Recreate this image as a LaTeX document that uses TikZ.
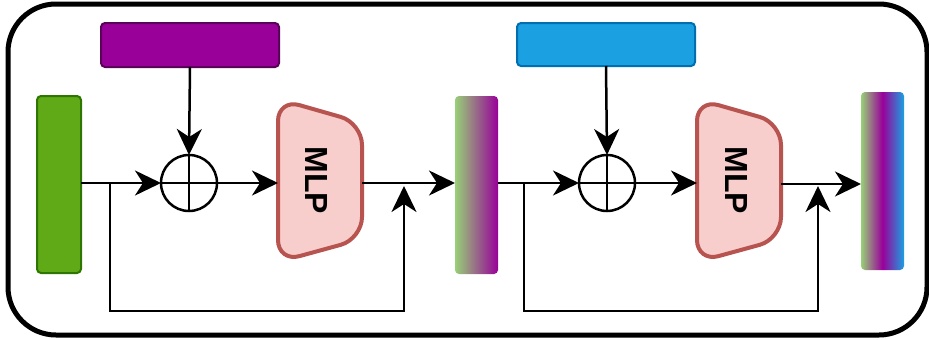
\documentclass[tikz,border=0pt]{standalone}
\usepackage{fontspec}
\setmainfont{Liberation Sans}
\usetikzlibrary{arrows.meta}
\definecolor{greenfill}{HTML}{60A917}
\definecolor{greenline}{HTML}{2D7600}
\definecolor{purplefill}{HTML}{990099}
\definecolor{purpleline}{HTML}{5A005A}
\definecolor{bluefill}{HTML}{1BA1E2}
\definecolor{blueline}{HTML}{006EAF}
\definecolor{lightgreen}{HTML}{97D077}
\definecolor{mlpfill}{HTML}{F8CECC}
\definecolor{mlpline}{HTML}{B85450}
\pgfdeclarehorizontalshading{trishade}{100bp}{color(0bp)=(lightgreen); color(25bp)=(lightgreen); color(50bp)=(purplefill); color(75bp)=(bluefill); color(100bp)=(bluefill)}
\tikzset{
  box/.style={rectangle, rounded corners=4pt, inner sep=0pt, outer sep=0pt, anchor=north west},
  sumnode/.style={circle, draw=black, line width=2.5pt, minimum size=56pt, inner sep=0pt, outer sep=0pt},
  mlparea/.style={rectangle, inner sep=0pt, outer sep=0pt, minimum width=84pt, minimum height=163pt, anchor=north west},
  mlpshape/.style={draw=mlpline, fill=mlpfill, line width=4pt, rounded corners=22pt},
  mlptext/.style={rotate=-90, font=\bfseries\fontsize{32}{32}\selectfont, inner sep=0pt},
  arr/.style={-{Stealth[length=26pt,width=25pt,inset=8pt]}, line width=2.5pt},
  plain/.style={line width=2.5pt},
}
\begin{document}
\begin{tikzpicture}[x=1pt,y=-1pt]
\useasboundingbox (0,0) rectangle (929,340);
% frame
\draw[line width=5pt, rounded corners=48pt] (8,4) rectangle (927,335);
% top boxes
\node[box, fill=purplefill, draw=purpleline, line width=2pt, minimum width=178pt, minimum height=44pt] (cond1) at (101,23) {};
\node[box, fill=bluefill, draw=blueline, line width=2pt, minimum width=178pt, minimum height=43pt] (cond2) at (517,23) {};
% input bar
\node[box, fill=greenfill, draw=greenline, line width=2pt, minimum width=44pt, minimum height=177pt] (inp) at (37,96) {};
% gradient bars
\node[box, left color=lightgreen, right color=purplefill, minimum width=43pt, minimum height=178pt] (bar1) at (455,96) {};
\node[box, shading=trishade, minimum width=43pt, minimum height=178pt] (bar2) at (861,92) {};
% sum nodes
\node[sumnode] (sum1) at (189,183) {};
\node[sumnode] (sum2) at (607,183) {};
\draw[plain] (sum1.north) -- (sum1.south);
\draw[plain] (sum1.west) -- (sum1.east);
\draw[plain] (sum2.north) -- (sum2.south);
\draw[plain] (sum2.west) -- (sum2.east);
% MLP blocks
\node[mlparea] (mlp1) at (278,99) {};
\node[mlparea] (mlp2) at (697,99) {};
\draw[mlpshape] (mlp1.north west) -- ([yshift=-24pt]mlp1.north east) -- ([yshift=23pt]mlp1.south east) -- (mlp1.south west) -- cycle;
\draw[mlpshape] (mlp2.north west) -- ([yshift=-24pt]mlp2.north east) -- ([yshift=23pt]mlp2.south east) -- (mlp2.south west) -- cycle;
\node[mlptext] (mlpt1) at ([xshift=-3pt]mlp1.center) {MLP};
\node[mlptext] (mlpt2) at ([xshift=-3pt]mlp2.center) {MLP};
% coordinates for skips
\coordinate (split1) at (110,183);
\coordinate (turn1) at (404,311);
\coordinate (tip1) at (404,186);
\coordinate (split2) at (524,183);
\coordinate (turn2) at (818,311);
\coordinate (tip2) at (818,186);
% connectors block 1
\draw[arr] (inp.east |- sum1.west) -- (sum1.west);
\draw[arr] (sum1.east) -- (sum1.east -| mlp1.west);
\draw[arr] (sum1.east -| mlp1.east) -- (sum1.east -| bar1.west);
\draw[arr] (cond1.south) -- (sum1.north);
\draw[arr] (split1) |- (turn1) -- (tip1);
% connectors block 2
\draw[arr] (bar1.east |- sum2.west) -- (sum2.west);
\draw[arr] (sum2.east) -- (sum2.east -| mlp2.west);
\draw[arr] ([yshift=-1pt]sum2.east -| mlp2.east) -- ([yshift=-1pt]sum2.east -| bar2.west);
\draw[arr] (cond2.south) -- (sum2.north);
\draw[arr] (split2) |- (turn2) -- (tip2);
\end{tikzpicture}
\end{document}
